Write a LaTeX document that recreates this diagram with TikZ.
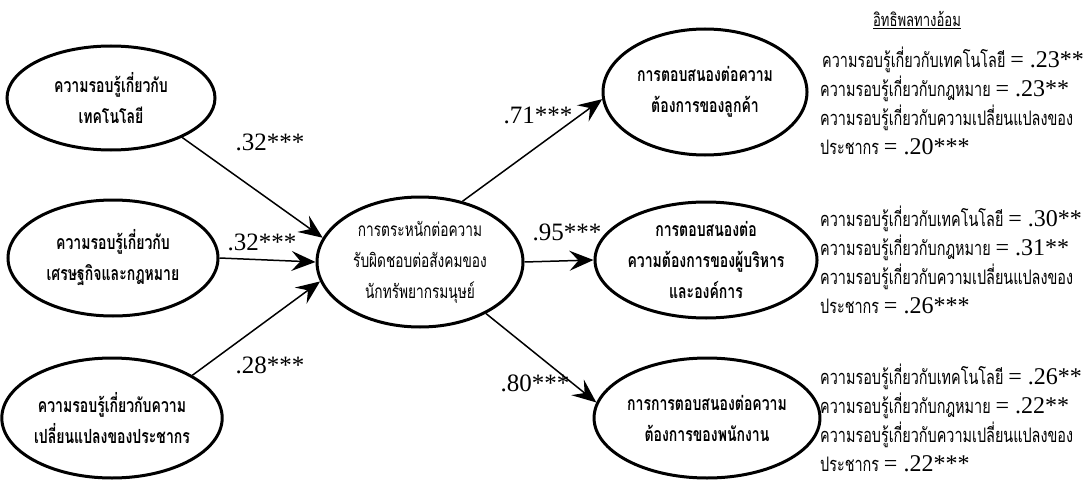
\documentclass[tikz,border=0pt]{standalone}
\usepackage{fontspec}
\setmainfont{Liberation Serif}
\newfontfamily\thai[Script=Thai,FakeStretch=0.72]{Loma}
\usetikzlibrary{shapes.geometric,arrows.meta}
\newcommand\effval[1]{{\rmfamily\fontsize{24}{24}\selectfont #1}}
\tikzset{
  latent/.style={ellipse, draw, line width=3pt, inner sep=0pt, align=center,
    font=\thai\bfseries\fontsize{19.5}{31}\selectfont},
  effectarrow/.style={-{Stealth[length=24pt,width=20pt,inset=9pt]}, line width=1.5pt},
  coef/.style={font=\fontsize{25}{25}\selectfont, inner sep=0pt},
  indirect/.style={align=left, anchor=north west, inner sep=0pt,
    font=\thai\fontsize{20}{29}\selectfont}
}
\begin{document}
\begin{tikzpicture}[x=1pt,y=-1pt]
      \useasboundingbox (0,0) rectangle (1083,484);
      \node[latent, minimum width=208pt, minimum height=104pt] (tech) at (111,98) {ความรอบรู้เกี่ยวกับ\\เทคโนโลยี};
      \node[latent, minimum width=210pt, minimum height=116pt] (econ) at (113,258) {ความรอบรู้เกี่ยวกับ\\เศรษฐกิจและกฎหมาย};
      \node[latent, minimum width=204pt, minimum height=120pt] (popu) at (112,418) {ความรอบรู้เกี่ยวกับความ\\เปลี่ยนแปลงของประชากร};
      \node[latent, font=\thai\fontsize{19}{31}\selectfont, minimum width=206pt, minimum height=130pt] (aware) at (420,262) {การตระหนักต่อความ\\รับผิดชอบต่อสังคมของ\\นักทรัพยากรมนุษย์};
      \node[latent, minimum width=204pt, minimum height=126pt] (cust) at (705,92) {การตอบสนองต่อความ\\ต้องการของลูกค้า};
      \node[latent, minimum width=206pt, minimum height=116pt] (mgmt) at (706,260) {การตอบสนองต่อ\\ความต้องการของผู้บริหาร\\และองค์การ};
      \node[latent, minimum width=204pt, minimum height=120pt] (staff) at (707,418) {การการตอบสนองต่อความ\\ต้องการของพนักงาน};
      \node[coef] (c1) at (270,142) {.32***};
      \node[coef] (c2) at (262,242) {.32***};
      \node[coef] (c3) at (270,365) {.28***};
      \node[coef] (c4) at (538,115) {.71***};
      \node[coef] (c5) at (567,232) {.95***};
      \node[coef] (c6) at (535,383) {.80***};
      \node (title) at (917,20) {\thai\fontsize{18.2}{18}\selectfont\underline{อิทธิพลทางอ้อม}};
      \node[indirect] (ind1) at (820,47) {\hspace{2pt}ความรอบรู้เกี่ยวกับเทคโนโลยี \effval{= .23**}\\ความรอบรู้เกี่ยวกับกฎหมาย \effval{= .23**}\\ความรอบรู้เกี่ยวกับความเปลี่ยนแปลงของ\\ประชากร \effval{= .20***}};
      \node[indirect] (ind2) at (820,206) {ความรอบรู้เกี่ยวกับเทคโนโลยี \effval{= .30**}\\ความรอบรู้เกี่ยวกับกฎหมาย \effval{= .31**}\\ความรอบรู้เกี่ยวกับความเปลี่ยนแปลงของ\\ประชากร \effval{= .26***}};
      \node[indirect] (ind3) at (820,364) {ความรอบรู้เกี่ยวกับเทคโนโลยี \effval{= .26**}\\ความรอบรู้เกี่ยวกับกฎหมาย \effval{= .22**}\\ความรอบรู้เกี่ยวกับความเปลี่ยนแปลงของ\\ประชากร \effval{= .22***}};
      \begin{scope}[effectarrow]
        \draw (tech.-29) to (aware.166);
        \draw (econ.east) to (aware.west);
        \draw (popu.28) to (aware.191);
        \draw (aware.55) to (cust.184);
        \draw (aware.east) to (mgmt.west);
        \draw (aware.-38) to (staff.172);
      \end{scope}
    \end{tikzpicture}
\end{document}
